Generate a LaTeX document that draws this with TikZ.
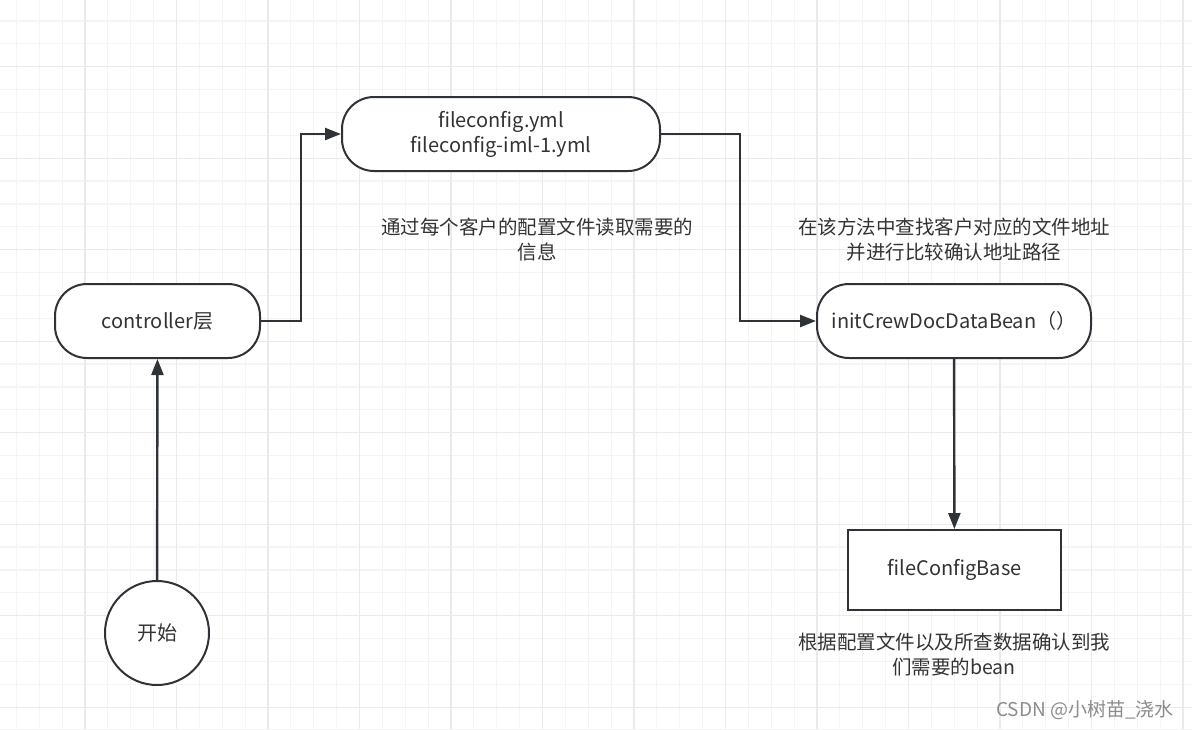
\documentclass[tikz,border=0pt]{standalone}
\usepackage{fontspec}
\setmainfont{Noto Sans CJK SC}
\usetikzlibrary{arrows.meta}

\definecolor{inkc}{HTML}{2F3338}
\definecolor{textc}{HTML}{333333}
\definecolor{minorc}{HTML}{F4F4F4}
\definecolor{majorc}{HTML}{EAEAEA}

\tikzset{
  term/.style={draw=inkc, line width=2pt, fill=white, rounded corners=32pt,
    minimum height=74pt, text=textc, font=\fontsize{20}{25}\selectfont, align=center},
  flow/.style={draw=inkc, line width=2.4pt, -{Triangle[length=16pt,width=12pt]}},
  note/.style={text=textc, font=\fontsize{19.5}{25}\selectfont, align=center}
}

\begin{document}
\begin{tikzpicture}[x=1pt,y=-1pt]
\useasboundingbox (0,0) rectangle (1192,729);
\fill[white] (0,0) rectangle (1192,729);

% grid
\foreach \k in {0,...,52} \draw[minorc, line width=1.2pt] ({-6.5+22.875*\k},0) -- ({-6.5+22.875*\k},729);
\foreach \k in {0,...,33} \draw[minorc, line width=1.2pt] (0,{-24.8+22.875*\k}) -- (1192,{-24.8+22.875*\k});
\foreach \k in {0,...,13} \draw[majorc, line width=1.3pt] ({-6.5+91.5*\k},0) -- ({-6.5+91.5*\k},729);
\foreach \k in {0,...,8} \draw[majorc, line width=1.3pt] (0,{-24.8+91.5*\k}) -- (1192,{-24.8+91.5*\k});

% nodes
\node[term, circle, rounded corners=0pt, minimum size=104pt, inner sep=0pt] (s) at (157,633) {开始};
\node[term, minimum width=205pt] (c) at (157.5,321) {controller层};
\node[term, minimum width=318pt] (f) at (501,134) {fileconfig.yml\\fileconfig-iml-1.yml};
\node[term, minimum width=274pt] (i) at (954,321) {initCrewDocDataBean（）};
\node[term, rounded corners=0pt, minimum width=213pt, minimum height=80pt] (b) at (954.5,570) {fileConfigBase};

% notes
\node[note] (n1) at (537,240) {通过每个客户的配置文件读取需要的\\信息};
\node[note] (n2) at (954,240) {在该方法中查找客户对应的文件地址\\并进行比较确认地址路径};
\node[note] (n3) at (954,655) {根据配置文件以及所查数据确认到我\\们需要的bean};
\node[text=black!45, font=\fontsize{19}{21}\selectfont] (w) at (1085,710) {CSDN @小树苗\_浇水};

% connectors
\path[flow] (s) -- (c);
\path[flow] (c.east) -- ++(40,0) |- (f.west);
\path[flow] (f.east) -- ++(79,0) |- (i.west);
\path[flow] (i) -- (b);
\end{tikzpicture}
\end{document}
